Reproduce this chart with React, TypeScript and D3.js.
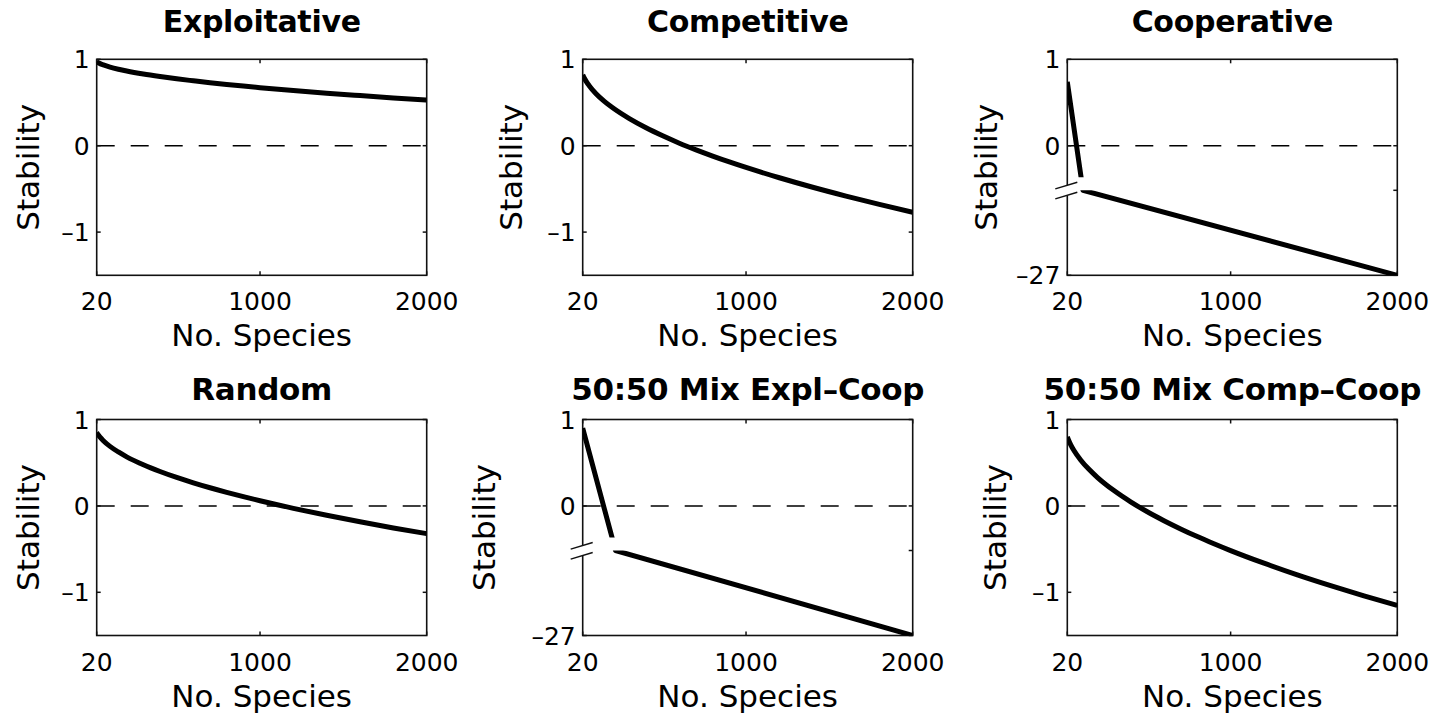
import React, { useEffect, useRef } from 'react';
import * as d3 from 'd3';

// Number of species sampled along x
const speciesGrid = [20, 30, 40, 60, 100, 150, 200, 300, 400, 500, 600, 700, 800, 900, 1000, 1200, 1400, 1600, 1800, 2000];

// Stability
const exploitative = [0.971, 0.96, 0.95, 0.935, 0.91, 0.885, 0.864, 0.829, 0.8, 0.774, 0.751, 0.729, 0.709, 0.69, 0.672, 0.639, 0.608, 0.58, 0.553, 0.528];
const competitive = [0.82, 0.781, 0.747, 0.691, 0.602, 0.513, 0.438, 0.313, 0.207, 0.114, 0.029, -0.048, -0.12, -0.188, -0.252, -0.371, -0.481, -0.583, -0.679, -0.77];
const random = [0.85, 0.821, 0.796, 0.755, 0.689, 0.624, 0.568, 0.476, 0.398, 0.329, 0.267, 0.21, 0.157, 0.107, 0.06, -0.028, -0.109, -0.184, -0.255, -0.321];
const compCoop = [0.8, 0.751, 0.71, 0.641, 0.532, 0.423, 0.331, 0.177, 0.047, -0.068, -0.171, -0.266, -0.355, -0.438, -0.517, -0.663, -0.798, -0.923, -1.041, -1.152];

// Broken-axis panels
const coopSpecies = [20, 114, 2000];
const cooperative = [0.74, -2, -27];
const explCoopSpecies = [20, 217, 2000];
const explCoop = [0.9, -2, -27];

const titles = [
  "Exploitative",
  "Competitive",
  "Cooperative",
  "Random",
  "50:50 Mix Expl\u2013Coop",
  "50:50 Mix Comp\u2013Coop",
];

const xTicks = [20, 1000, 2000];
const yTicksNormal = [-1, 0, 1];
const yTicksBroken = [-27, -2, 0, 1];

const W = 1431;
const H = 721;
const colLeft = [96.7, 582.7, 1067.3];
const rowTop = [59.3, 419.5];
const titleOffset = [27, 19.5];
const titleSize = [30, 31];
const panelW = 330;
const panelH = 216;
const FONT = "DejaVu Sans, Verdana, sans-serif";

interface Panel {
  title: string;
  n: number[];
  values: number[];
  broken: boolean;
  yLabelOffset: number;
}

const panels: Panel[] = [
  { title: titles[0], n: speciesGrid, values: exploitative, broken: false, yLabelOffset: 58 },
  { title: titles[1], n: speciesGrid, values: competitive, broken: false, yLabelOffset: 61 },
  { title: titles[2], n: coopSpecies, values: cooperative, broken: true, yLabelOffset: 70 },
  { title: titles[3], n: speciesGrid, values: random, broken: false, yLabelOffset: 58 },
  { title: titles[4], n: explCoopSpecies, values: explCoop, broken: true, yLabelOffset: 88 },
  { title: titles[5], n: speciesGrid, values: compCoop, broken: false, yLabelOffset: 61 },
];

const fmt = (t: number) => (t < 0 ? `\u2013${Math.abs(t)}` : `${t}`);

const App: React.FC = () => {
  const svgRef = useRef<SVGSVGElement>(null);

  useEffect(() => {
    if (!svgRef.current) return;
    const svg = d3.select(svgRef.current);
    svg.selectAll("*").remove();
    const defs = svg.append("defs");

    panels.forEach((p, i) => {
      const col = i % 3;
      const row = Math.floor(i / 3);
      const g = svg
        .append("g")
        .attr("transform", `translate(${colLeft[col]},${rowTop[row]})`);

      const x = d3.scaleLinear().domain([20, 2000]).range([0, panelW]);
      const y = p.broken
        ? d3.scaleLinear().domain([-27, -2, -0.37, 1]).range([panelH, 131, 118.4, 0])
        : d3.scaleLinear().domain([-1.5, 1]).range([panelH, 0]);

      // clip regions (two for a broken axis)
      const clips = p.broken
        ? [
            { id: `clip-${i}-a`, y0: 0, y1: 118 },
            { id: `clip-${i}-b`, y0: 131, y1: panelH },
          ]
        : [{ id: `clip-${i}-a`, y0: 0, y1: panelH }];
      clips.forEach(c => {
        defs
          .append("clipPath")
          .attr("id", c.id)
          .append("rect")
          .attr("x", colLeft[col])
          .attr("y", rowTop[row] + c.y0)
          .attr("width", panelW)
          .attr("height", c.y1 - c.y0);
      });

      // zero line
      g.append("line")
        .attr("x1", 0)
        .attr("x2", panelW)
        .attr("y1", y(0))
        .attr("y2", y(0))
        .attr("stroke", "#000")
        .attr("stroke-width", 1.5)
        .attr("stroke-dasharray", "18,16");

      // curve
      const pts: [number, number][] = p.n.map((n, k) => [n, p.values[k]]);
      const line = d3
        .line<[number, number]>()
        .x(d => x(d[0]))
        .y(d => y(d[1]))
        .curve(p.broken ? d3.curveLinear : d3.curveMonotoneX);

      clips.forEach(c => {
        svg.append("g")
          .attr("clip-path", `url(#${c.id})`)
          .append("path")
          .attr("transform", `translate(${colLeft[col]},${rowTop[row]})`)
          .attr("d", line(pts))
          .attr("fill", "none")
          .attr("stroke", "#000")
          .attr("stroke-width", 5)
          .attr("stroke-linejoin", "round");
      });

      // box
      g.append("rect")
        .attr("width", panelW)
        .attr("height", panelH)
        .attr("fill", "none")
        .attr("stroke", "#111")
        .attr("stroke-width", 1.6);

      // inward ticks
      xTicks.forEach(t => {
        g.append("line").attr("x1", x(t)).attr("x2", x(t)).attr("y1", 0).attr("y2", 4)
          .attr("stroke", "#111").attr("stroke-width", 1.5);
        g.append("line").attr("x1", x(t)).attr("x2", x(t)).attr("y1", panelH).attr("y2", panelH - 4)
          .attr("stroke", "#111").attr("stroke-width", 1.5);
      });
      const yTicks = p.broken ? yTicksBroken : yTicksNormal;
      yTicks.forEach(t => {
        g.append("line").attr("x1", 0).attr("x2", 4).attr("y1", y(t)).attr("y2", y(t))
          .attr("stroke", "#111").attr("stroke-width", 1.5);
        g.append("line").attr("x1", panelW).attr("x2", panelW - 4).attr("y1", y(t)).attr("y2", y(t))
          .attr("stroke", "#111").attr("stroke-width", 1.5);
      });

      // axis break marks
      if (p.broken) {
        const s = -0.3;
        const x0 = -12;
        const x1 = 10;
        g.append("polygon")
          .attr("points", [
            [x0, 126 + s * x0],
            [x1, 126 + s * x1],
            [x1, 136 + s * x1],
            [x0, 136 + s * x0],
          ].map(d => d.join(",")).join(" "))
          .attr("fill", "#fff");
        [126, 136].forEach(c => {
          g.append("line")
            .attr("x1", x0).attr("y1", c + s * x0)
            .attr("x2", x1).attr("y2", c + s * x1)
            .attr("stroke", "#111")
            .attr("stroke-width", 1.5);
        });
      }

      // tick labels
      xTicks.forEach(t => {
        g.append("text")
          .attr("x", x(t))
          .attr("y", panelH + 35)
          .attr("text-anchor", "middle")
          .style("font-family", FONT)
          .style("font-size", "25px")
          .style("fill", "#000")
          .text(`${t}`);
      });
      yTicks.filter(t => t !== -2).forEach(t => {
        g.append("text")
          .attr("x", -7)
          .attr("y", y(t))
          .attr("dy", "0.36em")
          .attr("text-anchor", "end")
          .style("font-family", FONT)
          .style("font-size", "25px")
          .style("fill", "#000")
          .text(fmt(t));
      });

      // axis labels
      g.append("text")
        .attr("x", panelW / 2)
        .attr("y", panelH + 71)
        .attr("text-anchor", "middle")
        .style("font-family", FONT)
        .style("font-size", "31px")
        .style("fill", "#000")
        .text("No. Species");

      g.append("text")
        .attr("transform", `translate(${-p.yLabelOffset},${panelH / 2}) rotate(-90)`)
        .attr("text-anchor", "middle")
        .style("font-family", FONT)
        .style("font-size", "31px")
        .style("fill", "#000")
        .text("Stability");

      // title
      g.append("text")
        .attr("x", panelW / 2)
        .attr("y", -titleOffset[row])
        .attr("text-anchor", "middle")
        .style("font-family", FONT)
        .style("font-size", `${titleSize[row]}px`)
        .style("font-weight", "bold")
        .style("letter-spacing", "-0.3px")
        .style("fill", "#000")
        .text(p.title);
    });
  }, []);

  return (
    <svg
      ref={svgRef}
      width={W}
      height={H}
      style={{ position: "absolute", left: 0, top: 0, background: "#fff" }}
    />
  );
};

export default App;
